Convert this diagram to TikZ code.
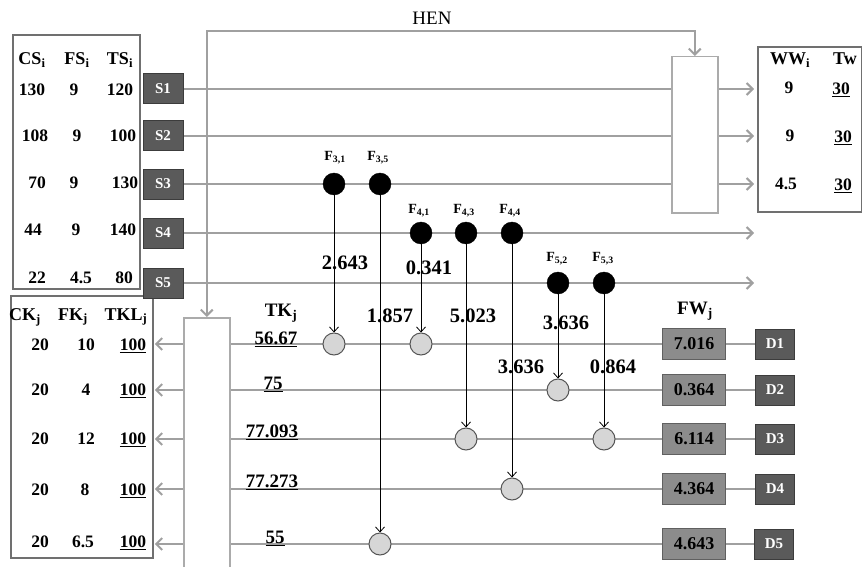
\documentclass[tikz,border=0pt]{standalone}
\usepackage{fontspec}
\setmainfont{Liberation Serif}
\usetikzlibrary{arrows.meta}
\pgfdeclarelayer{bg}
\pgfsetlayers{bg,main}
\definecolor{linegray}{HTML}{A0A0A0}
\definecolor{boxgray}{HTML}{707070}
\definecolor{henline}{HTML}{ABABAB}
\definecolor{darkfill}{HTML}{5A5A5A}
\definecolor{darkdraw}{HTML}{3C3C3C}
\definecolor{midfill}{HTML}{8C8C8C}
\definecolor{middraw}{HTML}{606060}
\definecolor{mixfill}{HTML}{D6D6D6}
\definecolor{mixdraw}{HTML}{555555}
\begin{document}
\begin{tikzpicture}[x=1pt,y=-1pt,
  flow/.style={draw=linegray, line width=2.4pt},
  gtip/.style={-{Straight Barb[length=6pt,width=12pt,line width=2pt]}},
  gtipboth/.style={{Straight Barb[length=6pt,width=12pt,line width=2pt]}-{Straight Barb[length=6pt,width=12pt,line width=2pt]}},
  vflow/.style={draw=black, line width=0.8pt, -{Straight Barb[length=5pt,width=9pt,line width=0.8pt]}},
  tabbox/.style={draw=boxgray, line width=1.8pt, fill=white, anchor=north west, inner sep=0pt},
  henbox/.style={draw=henline, line width=1.5pt, fill=white, anchor=north west, inner sep=0pt},
  sbox/.style={draw=darkdraw, fill=darkfill, line width=1pt, text=white, font=\fontsize{15}{17}\selectfont\bfseries, minimum width=40pt, minimum height=30pt, inner sep=0pt},
  fwbox/.style={draw=middraw, fill=midfill, line width=1.2pt, text=black, font=\fontsize{18}{20}\selectfont\bfseries, minimum width=63pt, minimum height=31pt, inner sep=0pt},
  split/.style={circle, fill=black, draw=black, minimum size=22pt, inner sep=0pt},
  mixer/.style={circle, fill=mixfill, draw=mixdraw, line width=1pt, minimum size=22pt, inner sep=0pt},
  tab/.style={font=\fontsize{17.5}{19}\selectfont\bfseries, inner sep=0pt},
  hdr/.style={font=\fontsize{18}{20}\selectfont\bfseries, inner sep=0pt},
  flab/.style={font=\fontsize{14}{16}\selectfont\bfseries, inner sep=0pt},
  qlab/.style={font=\fontsize{20.5}{22}\selectfont\bfseries, inner sep=0pt},
  tklab/.style={font=\fontsize{19}{21}\selectfont\bfseries, inner sep=0pt}
]
\useasboundingbox (0,0) rectangle (862,567);

% tables and boxes
\node[tabbox, minimum width=127pt, minimum height=254pt] (srcT) at (12,34) {};
\node[tabbox, minimum width=142pt, minimum height=262pt] (snkT) at (10,295) {};
\node[tabbox, minimum width=104pt, minimum height=165pt] (WW) at (757,46) {};
\node[henbox, minimum width=46pt, minimum height=156pt] (henR) at (671,56) {};
\node[henbox, minimum width=46pt, minimum height=270pt] (henL) at (183,317) {};
\coordinate (hentop) at (0,31);

% source boxes
\node[sbox] (S1) at (163,89) {S1};
\node[sbox] (S2) at (163,136) {S2};
\node[sbox] (S3) at (163,184) {S3};
\node[sbox] (S4) at (163,233) {S4};
\node[sbox] (S5) at (163,283) {S5};

% FW boxes and demand boxes
\node[fwbox] (FW1) at (694,344) {7.016};
\node[fwbox] (FW2) at (694,390) {0.364};
\node[fwbox] (FW3) at (694,439) {6.114};
\node[fwbox] (FW4) at (694,489) {4.364};
\node[fwbox] (FW5) at (694,544) {4.643};
\node[sbox, minimum width=39pt] (D1) at (775,344) {D1};
\node[sbox, minimum width=39pt] (D2) at (775,390) {D2};
\node[sbox, minimum width=39pt] (D3) at (775,439) {D3};
\node[sbox, minimum width=39pt] (D4) at (775,489) {D4};
\node[sbox, minimum width=39pt] (D5) at (774,544) {D5};

% splitters
\node[split] (F31) at (334,184) {};
\node[split] (F35) at (380,184) {};
\node[split] (F41) at (421,233) {};
\node[split] (F43) at (466,233) {};
\node[split] (F44) at (512,233) {};
\node[split] (F52) at (558,283) {};
\node[split] (F53) at (604,283) {};

% mixers
\node[mixer] (M1a) at (334,344) {};
\node[mixer] (M1b) at (421,344) {};
\node[mixer] (M2) at (558,390) {};
\node[mixer] (M3a) at (466,439) {};
\node[mixer] (M3b) at (604,439) {};
\node[mixer] (M4) at (512,489) {};
\node[mixer] (M5) at (380,544) {};

% connectors (background)
\begin{pgfonlayer}{bg}
  \draw[flow, gtipboth] (henL.north) -- (henL.north |- hentop) -| (henR.north);
  \foreach \s in {S1,S2,S3}{
    \draw[flow] (\s.east) -- (\s.east -| henR.west);
    \draw[flow, gtip] (\s.east -| henR.east) -- ([xshift=-3pt]\s.east -| WW.west);
  }
  \foreach \s in {S4,S5}{
    \draw[flow, gtip] (\s.east) -- ([xshift=-3pt]\s.east -| WW.west);
  }
  \foreach \k in {1,...,5}{
    \draw[flow] (FW\k.west -| henL.east) -- (FW\k.west);
    \draw[flow] (FW\k.east) -- (D\k.west);
    \draw[flow, gtip] (FW\k.west -| henL.west) -- ([xshift=1pt]FW\k.west -| snkT.east);
  }
\end{pgfonlayer}

% split flows
\draw[vflow] (F31.south) -- (M1a.north);
\draw[vflow] (F35.south) -- (M5.north);
\draw[vflow] (F41.south) -- (M1b.north);
\draw[vflow] (F43.south) -- (M3a.north);
\draw[vflow] (F44.south) -- (M4.north);
\draw[vflow] (F52.south) -- (M2.north);
\draw[vflow] (F53.south) -- (M3b.north);

% HEN label
\node[font=\fontsize{19}{21}\selectfont, inner sep=0pt] (hen) at (432,18) {HEN};

% source table text
\node[hdr] (hCS) at (32,60) {CS\textsubscript{i}};
\node[hdr] (hFS) at (77,60) {FS\textsubscript{i}};
\node[hdr] (hTS) at (120,60) {TS\textsubscript{i}};
\node[tab] (c1) at (32,90) {130};
\node[tab] (f1) at (74,90) {9};
\node[tab] (t1) at (120,90) {120};
\node[tab] (c2) at (35,136) {108};
\node[tab] (f2) at (77,136) {9};
\node[tab] (t2) at (123,136) {100};
\node[tab] (c3) at (37,183) {70};
\node[tab] (f3) at (74,183) {9};
\node[tab] (t3) at (125,183) {130};
\node[tab] (c4) at (33,230) {44};
\node[tab] (f4) at (76,230) {9};
\node[tab] (t4) at (123,230) {140};
\node[tab] (c5) at (37,278) {22};
\node[tab] (f5) at (81,278) {4.5};
\node[tab] (t5) at (124,278) {80};

% sink table text
\node[hdr] (hCK) at (25,317) {CK\textsubscript{j}};
\node[hdr] (hFK) at (73,317) {FK\textsubscript{j}};
\node[hdr] (hTKL) at (126,317) {TKL\textsubscript{j}};
\node[tab] (k1) at (40,345) {20};
\node[tab] (fk1) at (86,345) {10};
\node[tab] (tk1) at (133,346) {\underline{100}};
\node[tab] (k2) at (40,390) {20};
\node[tab] (fk2) at (86,390) {4};
\node[tab] (tk2) at (133,391) {\underline{100}};
\node[tab] (k3) at (40,439) {20};
\node[tab] (fk3) at (86,439) {12};
\node[tab] (tk3) at (133,440) {\underline{100}};
\node[tab] (k4) at (40,490) {20};
\node[tab] (fk4) at (85,490) {8};
\node[tab] (tk4) at (133,491) {\underline{100}};
\node[tab] (k5) at (40,542) {20};
\node[tab] (fk5) at (83,542) {6.5};
\node[tab] (tk5) at (133,543) {\underline{100}};

% WW table text
\node[hdr] (hWW) at (790,60) {WW\textsubscript{i}};
\node[hdr] (hTw) at (845,59) {Tw};
\node[tab] (w1) at (789,88) {9};
\node[tab] (tw1) at (841,90) {\underline{30}};
\node[tab] (w2) at (790,136) {9};
\node[tab] (tw2) at (843,138) {\underline{30}};
\node[tab] (w3) at (786,184) {4.5};
\node[tab] (tw3) at (843,186) {\underline{30}};

% TK labels
\node[tklab] (hTK) at (281,313) {TK\textsubscript{j}};
\node[tklab] (tkv1) at (276,339) {\underline{56.67}};
\node[tklab] (tkv2) at (273,384) {\underline{75}};
\node[tklab] (tkv3) at (272,432) {\underline{77.093}};
\node[tklab] (tkv4) at (272,482) {\underline{77.273}};
\node[tklab] (tkv5) at (275,538) {\underline{55}};
\node[tklab] (hFW) at (695,311) {FW\textsubscript{j}};

% splitter labels
\node[flab] (lF31) at (335,158) {F\textsubscript{3,1}};
\node[flab] (lF35) at (378,158) {F\textsubscript{3,5}};
\node[flab] (lF41) at (419,211) {F\textsubscript{4,1}};
\node[flab] (lF43) at (464,211) {F\textsubscript{4,3}};
\node[flab] (lF44) at (510,211) {F\textsubscript{4,4}};
\node[flab] (lF52) at (557,259) {F\textsubscript{5,2}};
\node[flab] (lF53) at (603,259) {F\textsubscript{5,3}};

% flow quantities
\node[qlab] (q1) at (345,263) {2.643};
\node[qlab] (q2) at (429,268) {0.341};
\node[qlab] (q3) at (390,316) {1.857};
\node[qlab] (q4) at (473,316) {5.023};
\node[qlab] (q5) at (566,323) {3.636};
\node[qlab] (q6) at (521,367) {3.636};
\node[qlab] (q7) at (613,367) {0.864};
\end{tikzpicture}
\end{document}
